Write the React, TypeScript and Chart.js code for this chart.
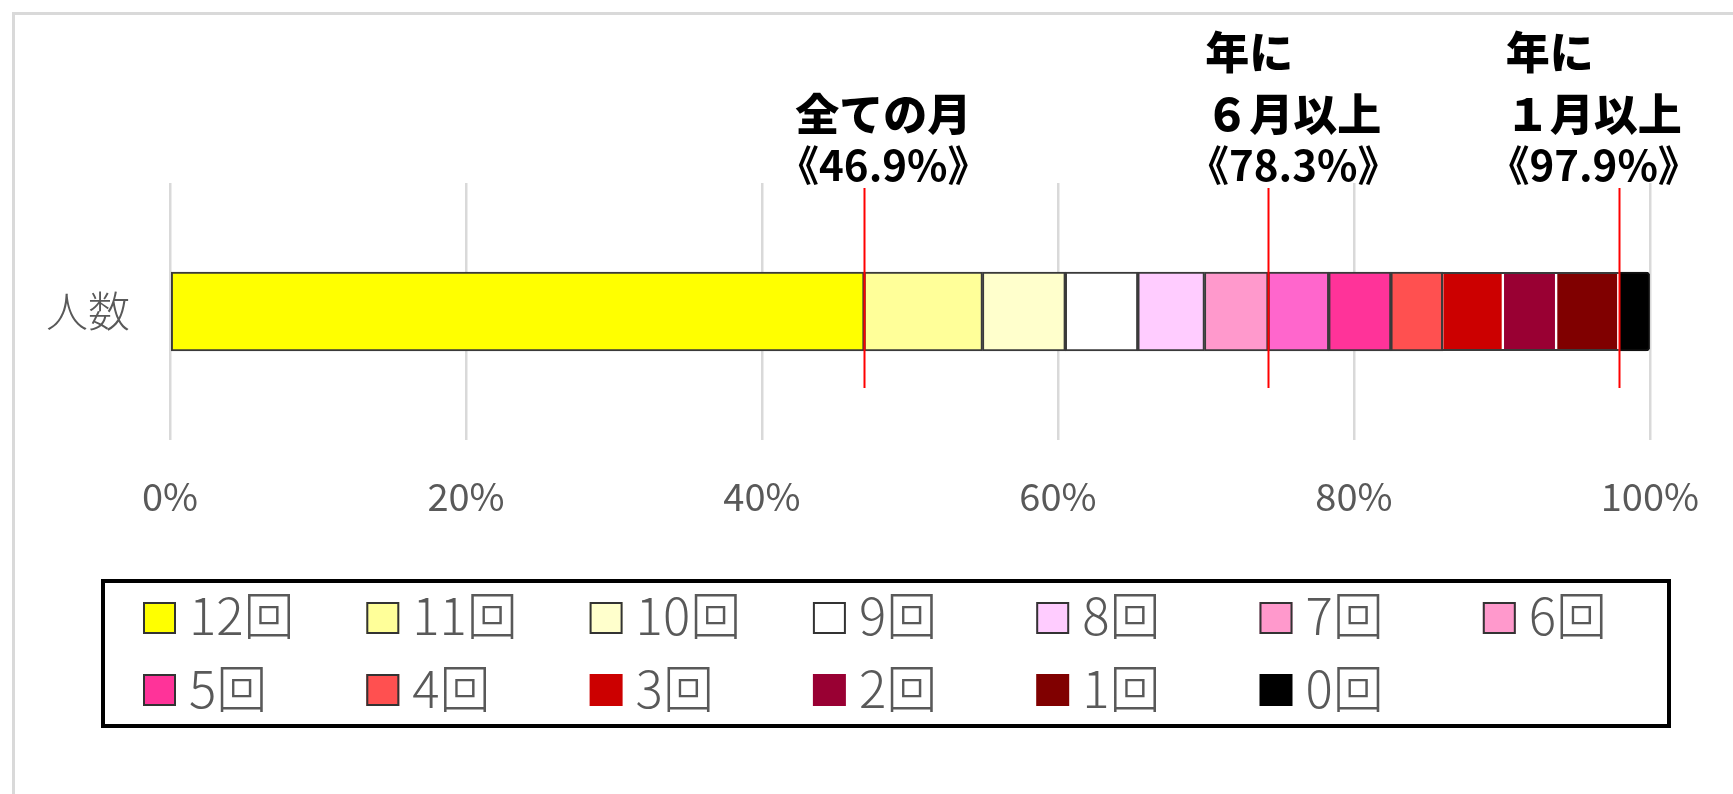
import React, { useEffect, useRef } from "react";
import { Chart, registerables } from "chart.js";

Chart.register(...registerables);

// ---------- data ----------
const categories = ["人数"];
const seriesLabels = ["12回", "11回", "10回", "9回", "8回", "7回", "6回", "5回", "4回", "3回", "2回", "1回", "0回"];
const seriesValues = [46.9, 8.0, 5.6, 4.9, 4.5, 4.3, 4.1, 4.2, 3.5, 4.1, 3.6, 4.2, 2.1];
const barColors = ["#FFFF00", "#FFFF99", "#FFFFCC", "#FFFFFF", "#FFCCFF", "#FF99CC", "#FF66CC", "#FF3399", "#FF5050", "#CC0000", "#990033", "#800000", "#000000"];
const legendColors = ["#FFFF00", "#FFFF99", "#FFFFCC", "#FFFFFF", "#FFCCFF", "#FF99CC", "#FF99CC", "#FF3399", "#FF5050", "#CC0000", "#990033", "#800000", "#000000"];
const xTickValues = [0, 20, 40, 60, 80, 100];
const xTickLabels = ["0%", "20%", "40%", "60%", "80%", "100%"];
// number of leading series summed for each red marker line
const markerCounts = [1, 6, 12];
const annotationTitles = [["全ての月"], ["年に", "６月以上"], ["年に", "１月以上"]];
const annotationPercents = ["《46.9%》", "《78.3%》", "《97.9%》"];
const annotationCenters = [48.2, 75.9, 96.2];

const FONT = "'Noto Sans CJK JP', 'Noto Sans', sans-serif";
const DARK_BORDER_COUNT = 9; // 12回..4回 outlined in dark grey

const framePlugin = {
  id: "frame",
  beforeDraw(chart: any) {
    const ctx = chart.ctx;
    ctx.save();
    ctx.fillStyle = "#ffffff";
    ctx.fillRect(0, 0, chart.width, chart.height);
    ctx.strokeStyle = "#d9d9d9";
    ctx.lineWidth = 3;
    ctx.beginPath();
    ctx.moveTo(13.5, chart.height);
    ctx.lineTo(13.5, 13.5);
    ctx.lineTo(chart.width, 13.5);
    ctx.stroke();
    ctx.restore();
  },
};

const groupOutlinePlugin = {
  id: "groupOutline",
  afterDatasetsDraw(chart: any) {
    const ctx = chart.ctx;
    const first = chart.getDatasetMeta(DARK_BORDER_COUNT).data[0];
    const last = chart.getDatasetMeta(seriesValues.length - 2).data[0];
    if (!first || !last) return;
    const p1 = first.getProps(["x", "y", "base", "height"], true);
    const p2 = last.getProps(["x", "y", "base", "height"], true);
    ctx.save();
    ctx.strokeStyle = "#3a3a3a";
    ctx.lineWidth = 2;
    ctx.beginPath();
    const top = p1.y - p1.height / 2 + 1;
    const bot = p1.y + p1.height / 2 - 1;
    ctx.moveTo(p1.base, top);
    ctx.lineTo(p2.x, top);
    ctx.moveTo(p1.base, bot);
    ctx.lineTo(p2.x, bot);
    ctx.stroke();
    ctx.restore();
  },
};

const annotationPlugin = {
  id: "annotations",
  afterDatasetsDraw(chart: any) {
    const ctx = chart.ctx;
    const xs = chart.scales.x;
    ctx.save();
    markerCounts.forEach((k) => {
      const v = seriesValues.slice(0, k).reduce((a, b) => a + b, 0);
      const px = Math.round(xs.getPixelForValue(v)) + 0.5;
      ctx.strokeStyle = "#FF0000";
      ctx.lineWidth = 2;
      ctx.beginPath();
      ctx.moveTo(px, 188);
      ctx.lineTo(px, 388);
      ctx.stroke();
    });
    ctx.fillStyle = "#000000";
    ctx.textBaseline = "middle";
    annotationCenters.forEach((c, i) => {
      const cx = xs.getPixelForValue(c);
      const titles = annotationTitles[i];
      ctx.font = `900 44px ${FONT}`;
      const lastW = ctx.measureText(titles[titles.length - 1]).width;
      titles.forEach((t, j) => {
        const y = 114 - (titles.length - 1 - j) * 62;
        if (j === titles.length - 1) {
          ctx.textAlign = "center";
          ctx.fillText(t, cx, y);
        } else {
          ctx.textAlign = "left";
          ctx.fillText(t, cx - lastW / 2, y);
        }
      });
      ctx.font = `bold 42px ${FONT}`;
      ctx.textAlign = "center";
      ctx.fillText(annotationPercents[i], cx, 165);
    });
    ctx.restore();
  },
};

const legendPlugin = {
  id: "gridLegend",
  afterDraw(chart: any) {
    const ctx = chart.ctx;
    const box = { left: 103, top: 581, right: 1669, bottom: 726 };
    ctx.save();
    ctx.strokeStyle = "#000000";
    ctx.lineWidth = 4;
    ctx.strokeRect(box.left, box.top, box.right - box.left, box.bottom - box.top);
    const ds = chart.data.datasets;
    ds.forEach((d: any, i: number) => {
      const col = i % 7;
      const row = Math.floor(i / 7);
      const sx = 143 + col * 223.3;
      const sy = 602 + row * 72;
      ctx.fillStyle = d.legendColor;
      ctx.fillRect(sx, sy, 33, 32);
      if (i < DARK_BORDER_COUNT) {
        ctx.strokeStyle = "#333333";
        ctx.lineWidth = 2;
        ctx.strokeRect(sx + 1, sy + 1, 31, 30);
      }
      ctx.fillStyle = "#595959";
      ctx.font = `300 51px ${FONT}`;
      ctx.textAlign = "left";
      ctx.textBaseline = "alphabetic";
      ctx.fillText(d.label, sx + 46, 635 + row * 73);
    });
    ctx.restore();
  },
};

export default function App() {
  const canvasRef = useRef<HTMLCanvasElement | null>(null);

  useEffect(() => {
    if (!canvasRef.current) return;
    const datasets = seriesLabels.map((label, i) => {
      const dark = i < DARK_BORDER_COUNT;
      const isLast = i === seriesLabels.length - 1;
      return {
        label,
        data: [seriesValues[i]],
        backgroundColor: barColors[i],
        legendColor: legendColors[i],
        borderColor: dark ? "#3a3a3a" : isLast ? "#111111" : "#ffffff",
        borderWidth: dark || isLast ? 2 : { top: 0, bottom: 0, left: 1, right: 2 },
        borderSkipped: false,
        borderRadius: isLast ? { topLeft: 0, bottomLeft: 0, topRight: 4, bottomRight: 4 } : 0,
        barThickness: 79,
      };
    });

    const chart = new Chart(canvasRef.current, {
      type: "bar",
      data: { labels: categories, datasets: datasets as any },
      options: {
        indexAxis: "y",
        responsive: true,
        maintainAspectRatio: false,
        animation: false,
        layout: { padding: { top: 183, right: 82, bottom: 234, left: 0 } },
        plugins: {
          legend: { display: false },
          tooltip: { enabled: false },
        },
        scales: {
          x: {
            stacked: true,
            min: 0,
            max: 100,
            afterBuildTicks: (scale: any) => {
              scale.ticks = xTickValues.map((v) => ({ value: v }));
            },
            ticks: {
              callback: (v: any) => xTickLabels[xTickValues.indexOf(Number(v))] ?? "",
              font: { size: 38, family: FONT },
              color: "#595959",
              padding: 34,
              maxRotation: 0,
            },
            grid: { color: "#d9d9d9", lineWidth: 2.5, drawTicks: false },
            border: { display: false },
            afterFit: (scale: any) => {
              scale.height = 120;
            },
          },
          y: {
            stacked: true,
            ticks: { font: { size: 42, family: FONT, weight: 300 }, color: "#595959", padding: 32 },
            grid: { display: false },
            border: { display: false },
            afterFit: (scale: any) => {
              scale.width = 170;
            },
          },
        },
      },
      plugins: [framePlugin, groupOutlinePlugin, annotationPlugin, legendPlugin],
    });
    return () => chart.destroy();
  }, []);

  return (
    <div style={{ position: "fixed", left: 0, top: 0, width: 1733, height: 794 }}>
      <canvas ref={canvasRef} />
    </div>
  );
}
